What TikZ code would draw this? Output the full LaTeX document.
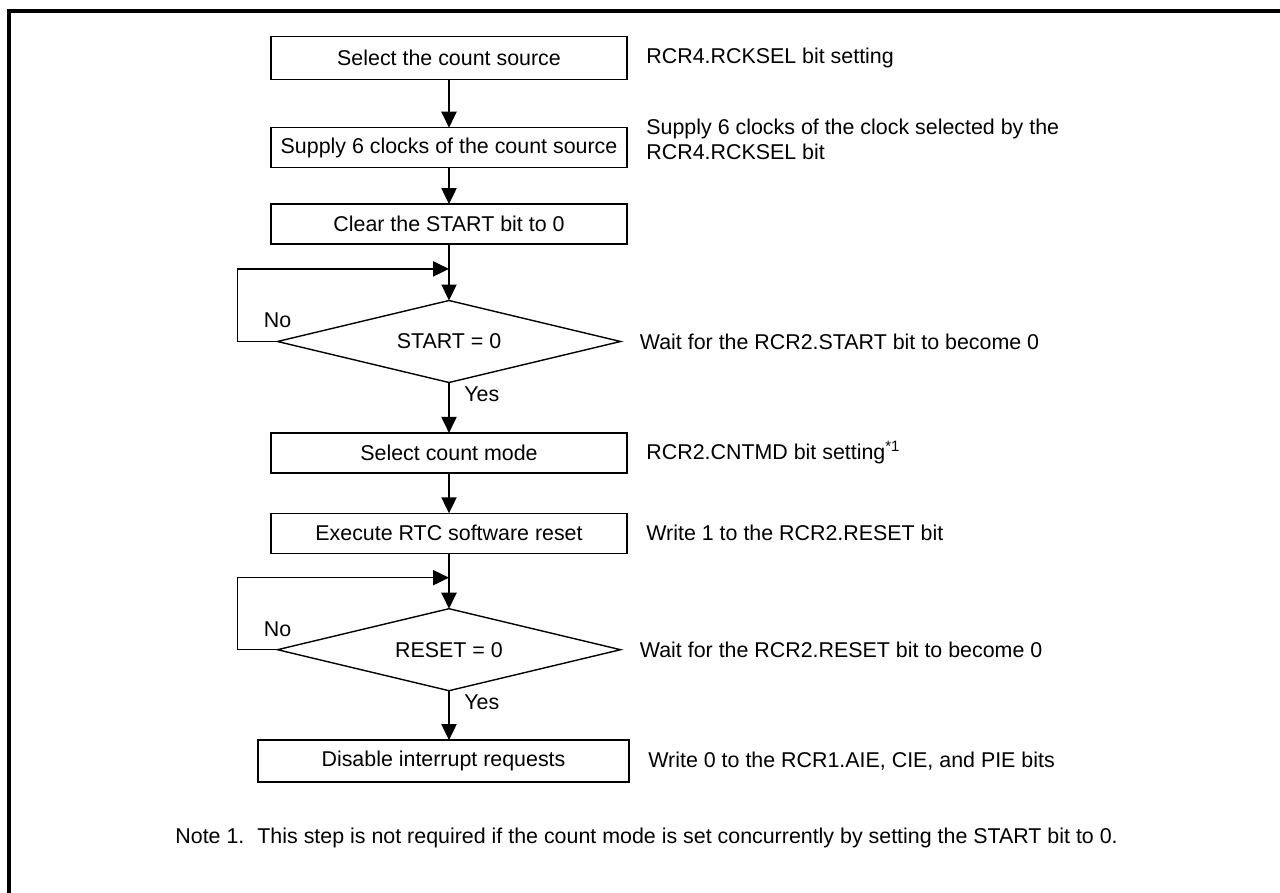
\documentclass[tikz,border=0pt]{standalone}
\usepackage{fontspec}
\setmainfont{Liberation Sans}
\usepackage{tikz}
\usetikzlibrary{arrows.meta,positioning,calc,shapes.geometric}

\begin{document}
\begin{tikzpicture}[
  x=0.5pt,y=-0.5pt,
  node distance=9.5pt,
  every node/.style={font=\fontsize{10.7}{12.5}\selectfont},
  stepbox/.style={draw,line width=0.7pt,outer sep=0pt,minimum width=178pt,minimum height=20pt,inner sep=2pt},
  check/.style={draw,diamond,aspect=4,line width=0.7pt,outer sep=0pt,minimum width=171.5pt,minimum height=41pt,inner sep=0pt},
  note/.style={inner sep=0pt,align=left},
  lbl/.style={inner sep=0pt},
  arr/.style={-{Triangle[length=8pt,width=7.6pt]},line width=0.7pt}
]
\useasboundingbox (0,0) rectangle (1280,893);
\draw[line width=1.6pt] (9,893) -- (9,11) -- (1280,11);

\node[stepbox,minimum height=21.3pt] (src) at (449,58) {Select the count source};
\node[stepbox,below=24.2pt of src] (clk) {Supply 6 clocks of the count source};
\node[stepbox,below=18.2pt of clk] (clr) {Clear the START bit to 0};
\node[check,below=28.2pt of clr] (chkstart) {START = 0};
\node[stepbox,below=25.2pt of chkstart] (mode) {Select count mode};
\node[stepbox,below=20.2pt of mode] (rst) {Execute RTC software reset};
\node[check,below=27.7pt of rst] (chkreset) {RESET = 0};
\node[stepbox,minimum width=185.5pt,minimum height=21pt,below=24.7pt of chkreset,xshift=-2.75pt] (irq) {Disable interrupt requests};

\node[note,right=of src] (srcnote) {RCR4.RCKSEL bit setting};
\node[note,right=of clk,yshift=4pt] (clknote) {Supply 6 clocks of the clock selected by the\\RCR4.RCKSEL bit};
\node[note,right=of chkstart] (startnote) {Wait for the RCR2.START bit to become 0};
\node[note,right=of mode] (modenote) {RCR2.CNTMD bit setting\textsuperscript{*1}};
\node[note,right=of rst] (rstnote) {Write 1 to the RCR2.RESET bit};
\node[note,right=of chkreset] (resetnote) {Wait for the RCR2.RESET bit to become 0};
\node[note,right=of irq] (irqnote) {Write 0 to the RCR1.AIE, CIE, and PIE bits};

\node[lbl,above=6.5pt of chkstart.west] (nostart) {No};
\node[lbl,below right=2pt and 7.5pt of chkstart.south] (yesstart) {Yes};
\node[lbl,above=6.5pt of chkreset.west] (noreset) {No};
\node[lbl,below right=2pt and 7.5pt of chkreset.south] (yesreset) {Yes};

\node[lbl,anchor=west] (footnote) at (175,838) {\makebox[41pt][l]{Note 1.}This step is not required if the count mode is set concurrently by setting the START bit to 0.};

\coordinate (jstart) at ($(clr.south)!0.44!(chkstart.north)$);
\coordinate (jreset) at ($(rst.south)!0.44!(chkreset.north)$);

\draw[arr] (src) -- (clk);
\draw[arr] (clk) -- (clr);
\draw[arr] (clr) -- (chkstart);
\draw[arr] (chkstart.west) -- ++(-20pt,0) |- (jstart);
\draw[arr] (chkstart) -- (mode);
\draw[arr] (mode) -- (rst);
\draw[arr] (rst) -- (chkreset);
\draw[arr] (chkreset.west) -- ++(-20pt,0) |- (jreset);
\draw[arr] (chkreset.south) -- (chkreset.south |- irq.north);
\end{tikzpicture}
\end{document}
